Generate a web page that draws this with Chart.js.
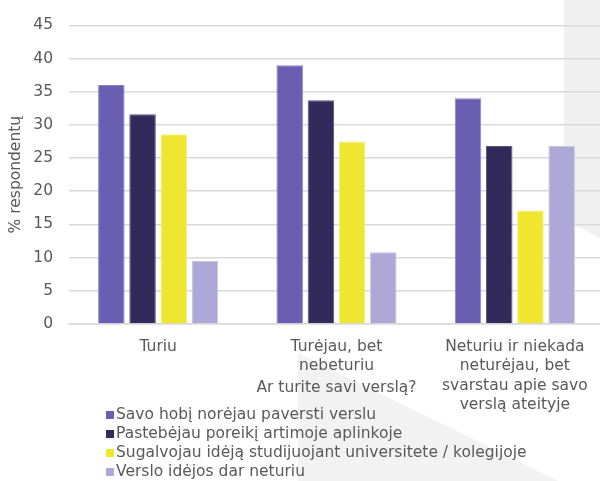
<!DOCTYPE html>
<html lang="lt">
  <head>
    <meta charset="UTF-8" />
    <script src="https://cdn.jsdelivr.net/npm/chart.js@4/dist/chart.umd.min.js"></script>
    <title>Ar turite savi verslą?</title>
    <style>
      html, body { margin: 0; padding: 0; overflow: hidden; background: #fff; }
    </style>
  </head>
  <body>
    <canvas id="chart" width="604" height="481"></canvas>
    <script>
      const categories = [
        "Turiu",
        ["Turėjau, bet", "nebeturiu"],
        ["Neturiu ir niekada", "neturėjau, bet", "svarstau apie savo", "verslą ateityje"],
      ];
      const seriesNames = [
        "Savo hobį norėjau paversti verslu",
        "Pastebėjau poreikį artimoje aplinkoje",
        "Sugalvojau idėją studijuojant universitete / kolegijoje",
        "Verslo idėjos dar neturiu",
      ];
      const hobby = [36, 39, 34];
      const need = [31.6, 33.7, 26.8];
      const studies = [28.6, 27.5, 17.1];
      const noIdea = [9.5, 10.8, 26.8];
      const yTicks = [0, 5, 10, 15, 20, 25, 30, 35, 40, 45];

      const fills = ["#6a5eb2", "#312a5a", "#eee62f", "#aea8d7"];
      const edges = ["#8c83c6", "#5b5680", "#f4ef86", "#c9c4e6"];
      const txt = "#595959";
      const font = "'DejaVu Sans', Verdana, sans-serif";
      const size = 15.5;

      // grey shapes behind the chart
      const backdrop = {
        id: "backdrop",
        beforeDraw(chart) {
          const c = chart.ctx;
          c.save();
          c.fillStyle = "#f0f0f0";
          c.beginPath();
          c.moveTo(564, 0); c.lineTo(604, 0); c.lineTo(604, 240); c.lineTo(564, 219);
          c.closePath(); c.fill();
          c.fillStyle = "#f2f2f2";
          c.beginPath();
          c.moveTo(298, 353); c.lineTo(298, 481); c.lineTo(558, 481);
          c.closePath(); c.fill();
          c.restore();
        },
      };

      // axis title and legend placed like the original
      const extras = {
        id: "extras",
        afterDraw(chart) {
          const c = chart.ctx;
          const area = chart.chartArea;
          c.save();
          c.font = size + "px " + font;
          c.fillStyle = txt;
          c.textAlign = "center";
          c.textBaseline = "middle";
          c.fillText("Ar turite savi verslą?", (area.left + area.right) / 2, 388);
          c.textAlign = "left";
          chart.data.datasets.forEach((ds, i) => {
            const y = 415 + i * 19;
            c.fillStyle = ds.backgroundColor;
            c.fillRect(106, y - 4, 8, 8);
            c.fillStyle = txt;
            c.fillText(ds.label, 116, y);
          });
          c.restore();
        },
      };

      const series = [hobby, need, studies, noIdea];
      new Chart(document.getElementById("chart"), {
        type: "bar",
        data: {
          labels: categories,
          datasets: series.map((vals, i) => ({
            label: seriesNames[i],
            data: vals,
            backgroundColor: fills[i],
            borderColor: edges[i],
            borderWidth: 1,
            categoryPercentage: 0.7,
            barPercentage: 0.85,
          })),
        },
        options: {
          responsive: false,
          animation: false,
          layout: { padding: { top: 22, left: 0, right: 0, bottom: 0 } },
          plugins: { legend: { display: false }, tooltip: { enabled: false } },
          scales: {
            x: {
              afterFit: (s) => { s.height = 157; },
              grid: { display: false, drawTicks: false },
              border: { color: "#d9d9d9", width: 1.5 },
              ticks: {
                color: txt,
                padding: 13,
                maxRotation: 0,
                autoSkip: false,
                font: { family: font, size: size, lineHeight: 1.26 },
              },
            },
            y: {
              min: 0,
              max: 45,
              afterFit: (s) => { s.width = 69; },
              afterBuildTicks: (s) => { s.ticks = yTicks.map((v) => ({ value: v })); },
              border: { display: false },
              grid: { color: "#d9d9d9", lineWidth: 1.5, drawTicks: false },
              ticks: {
                color: txt,
                padding: 16,
                font: { family: font, size: size },
              },
              title: {
                display: true,
                text: "% respondentų",
                color: txt,
                padding: { top: 7, bottom: 0 },
                font: { family: font, size: size },
              },
            },
          },
        },
        plugins: [backdrop, extras],
      });
    </script>
  </body>
</html>
